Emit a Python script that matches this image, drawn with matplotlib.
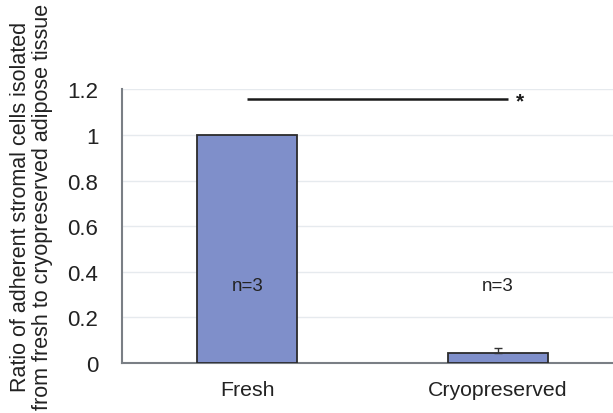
import matplotlib

matplotlib.use("Agg")
import matplotlib.pyplot as plt

plt.rcParams["font.family"] = ["Liberation Sans", "DejaVu Sans"]

groups = ["Fresh", "Cryopreserved"]
ratios = [1.0, 0.045]
errors = [0.0, 0.02]
n_labels = ["n=3", "n=3"]
y_ticks = [0, 0.2, 0.4, 0.6, 0.8, 1.0, 1.2]
y_tick_labels = ["0", "0.2", "0.4", "0.6", "0.8", "1", "1.2"]
sig_level = 1.16
sig_mark = "*"

fig = plt.figure(figsize=(6.13, 4.14), dpi=100)
ax = fig.add_axes([0.199, 0.1208, 0.801, 0.6608])

x = list(range(len(groups)))
ax.bar(x, ratios, width=0.4, color="#7f8fca", edgecolor="#2b2b2b",
       linewidth=1.3, zorder=3)
# Only the cryopreserved bar carries a visible error bar
ax.errorbar(x[1], ratios[1], yerr=[[0], [errors[1]]], fmt="none",
            ecolor="#333333", elinewidth=1.0, capsize=3, capthick=1.0, zorder=4)

for xi, lab in zip(x, n_labels):
    ax.text(xi, 0.34, lab, ha="center", va="center", fontsize=13.5, color="#222222", zorder=5)

# Significance bar between the two groups
ax.plot([0, 1.04], [sig_level, sig_level], color="#1a1a1a", linewidth=1.8,
        solid_capstyle="butt", clip_on=False)
ax.text(1.09, sig_level - 0.01, sig_mark, ha="center", va="center",
        fontsize=15, fontweight="bold", color="#1a1a1a")

ax.set_xlim(-0.5, 1.46)
ax.set_ylim(0, 1.2)
ax.set_yticks(y_ticks)
ax.set_yticklabels(y_tick_labels, fontsize=16, color="#222222")
ax.set_xticks(x)
ax.set_xticklabels(groups, fontsize=15.3, color="#222222")
ax.tick_params(axis="y", length=0, pad=17)
ax.tick_params(axis="x", length=0, pad=12)

ax.grid(axis="y", color="#e6eaee", linewidth=1.0, zorder=0)
ax.set_axisbelow(True)
for side in ("top", "right"):
    ax.spines[side].set_visible(False)
ax.spines["left"].set_color("#7a7f85")
ax.spines["left"].set_linewidth(1.5)
ax.spines["bottom"].set_color("#7a7f85")
ax.spines["bottom"].set_linewidth(1.5)

fig.text(0.051, 0.5, "Ratio of adherent stromal cells isolated\n"
         "from fresh to cryopreserved adipose tissue",
         rotation=90, ha="center", va="center", fontsize=15.5,
         color="#222222", linespacing=1.05)

fig.savefig("out.png", dpi=100)
